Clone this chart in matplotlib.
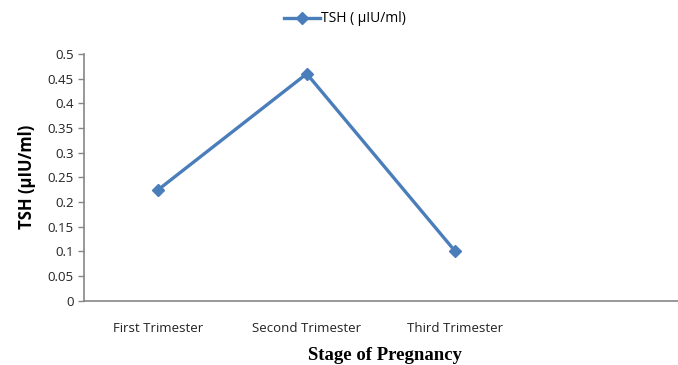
import matplotlib.pyplot as plt

# TSH levels across the three trimesters
stages = ["First Trimester", "Second Trimester", "Third Trimester"]
tsh = [0.225, 0.46, 0.1]
y_ticks = [0, 0.05, 0.1, 0.15, 0.2, 0.25, 0.3, 0.35, 0.4, 0.45, 0.5]

line_color = "#4a7ebb"
axis_color = "#868686"

fig = plt.figure(figsize=(6.78, 3.65), dpi=100)
ax = fig.add_axes([84 / 678, 1 - 300.7 / 365, 1 - 84 / 678, 246.7 / 365])

x = list(range(len(stages)))
ax.plot(x, tsh, color=line_color, linewidth=2.4, marker="D", markersize=6,
        label="TSH ( µIU/ml)")

# four category slots, the last one left empty
ax.set_xlim(-0.5, 3.5)
ax.set_ylim(0, 0.5)
ax.set_xticks(x)
ax.set_xticklabels(stages, fontsize=9.5, family="Open Sans", color="#222222")
ax.set_yticks(y_ticks)
ax.set_yticklabels([f"{v:g}" for v in y_ticks], fontsize=9.5, family="Open Sans",
                   color="#222222")
ax.tick_params(axis="x", length=0, pad=15)
ax.tick_params(axis="y", length=4, color=axis_color, width=1)

for side in ("top", "right"):
    ax.spines[side].set_visible(False)
for side in ("left", "bottom"):
    ax.spines[side].set_color(axis_color)
    ax.spines[side].set_linewidth(1.2)

ax.set_ylabel("TSH (µIU/ml)", fontsize=12, fontweight="bold", family="Open Sans",
              labelpad=8)
fig.text(385 / 678, 1 - 356 / 365, "Stage of Pregnancy", fontsize=13.5,
         fontweight="bold", family="Liberation Serif", ha="center", va="center")

fig.legend(loc="center", bbox_to_anchor=(345 / 678, 1 - 19 / 365), frameon=False,
           prop={"family": "Open Sans", "size": 10}, handlelength=2.6,
           handletextpad=0.1)

fig.savefig("out.png", dpi=100)
